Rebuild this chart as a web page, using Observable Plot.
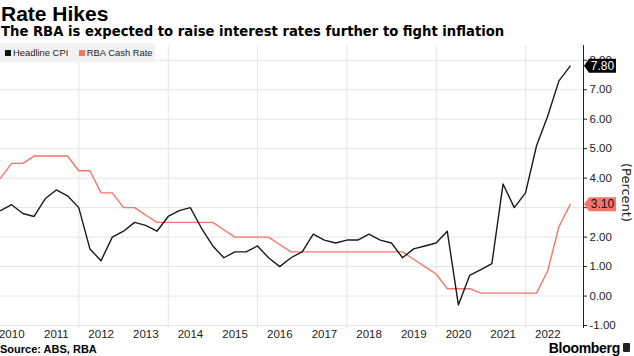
<!DOCTYPE html>
<html>
<head>
<meta charset="utf-8">
<script src="https://cdn.jsdelivr.net/npm/d3@7"></script>
<script src="https://cdn.jsdelivr.net/npm/@observablehq/plot@0.6"></script>
<style>
  html, body { margin: 0; padding: 0; background: #fff; }
  body { width: 634px; height: 356px; position: relative; overflow: hidden; font-family: "Liberation Sans", Arial, sans-serif; color: #000; }
  #head { position: relative; height: 42px; }
  #title { position: absolute; left: 1px; top: 3px; font-size: 21px; line-height: 21px; font-weight: bold; }
  #subtitle { position: absolute; left: 1px; top: 25px; font-family: "DejaVu Sans", sans-serif; font-size: 13.2px; line-height: 14px; font-weight: bold; white-space: nowrap; }
  #legend { position: absolute; left: 0; top: 43px; width: 155px; height: 19px; background: #f2f2f2; font-size: 9.4px; line-height: 19px; color: #222; white-space: nowrap; }
  #legend span.sw { display: inline-block; width: 6px; height: 6px; margin: 0 2px 0 5px; vertical-align: 0px; }
  #foot { position: relative; height: 14px; }
  #source { position: absolute; left: 0; top: 0; font-size: 11px; line-height: 14px; font-weight: bold; }
  #brand { position: absolute; right: 14px; top: -2px; font-size: 14px; line-height: 16px; font-weight: bold; letter-spacing: -0.3px; }
  #icon { position: absolute; right: 4px; top: 1px; width: 7px; height: 9px; background: #222; border-radius: 1px; }
</style>
</head>
<body>
<div id="head">
  <div id="title">Rate Hikes</div>
  <div id="subtitle">The RBA is expected to raise interest rates further to fight inflation</div>
</div>
<div id="chart"></div>
<div id="foot">
  <div id="source">Source: ABS, RBA</div>
  <div id="brand">Bloomberg</div>
  <div id="icon"></div>
</div>
<div id="legend"><span class="sw" style="background:#111"></span>Headline CPI <span class="sw" style="background:#f4756a;margin-left:8px"></span>RBA Cash Rate</div>
<script>
// Quarter-end dates (categories)
const quarters = [
  "2010-03-31","2010-06-30","2010-09-30","2010-12-31",
  "2011-03-31","2011-06-30","2011-09-30","2011-12-31",
  "2012-03-31","2012-06-30","2012-09-30","2012-12-31",
  "2013-03-31","2013-06-30","2013-09-30","2013-12-31",
  "2014-03-31","2014-06-30","2014-09-30","2014-12-31",
  "2015-03-31","2015-06-30","2015-09-30","2015-12-31",
  "2016-03-31","2016-06-30","2016-09-30","2016-12-31",
  "2017-03-31","2017-06-30","2017-09-30","2017-12-31",
  "2018-03-31","2018-06-30","2018-09-30","2018-12-31",
  "2019-03-31","2019-06-30","2019-09-30","2019-12-31",
  "2020-03-31","2020-06-30","2020-09-30","2020-12-31",
  "2021-03-31","2021-06-30","2021-09-30","2021-12-31",
  "2022-03-31","2022-06-30","2022-09-30","2022-12-31"
];
// Headline CPI, y/y %
const cpi = [
  2.9, 3.1, 2.8, 2.7,
  3.3, 3.6, 3.4, 3.0,
  1.6, 1.2, 2.0, 2.2,
  2.5, 2.4, 2.2, 2.7,
  2.9, 3.0, 2.3, 1.7,
  1.3, 1.5, 1.5, 1.7,
  1.3, 1.0, 1.3, 1.5,
  2.1, 1.9, 1.8, 1.9,
  1.9, 2.1, 1.9, 1.8,
  1.3, 1.6, 1.7, 1.8,
  2.2, -0.3, 0.7, 0.9,
  1.1, 3.8, 3.0, 3.5,
  5.1, 6.1, 7.3, 7.8
];
// RBA cash rate, %
const cashRate = [
  4.0, 4.5, 4.5, 4.75,
  4.75, 4.75, 4.75, 4.25,
  4.25, 3.5, 3.5, 3.0,
  3.0, 2.75, 2.5, 2.5,
  2.5, 2.5, 2.5, 2.5,
  2.25, 2.0, 2.0, 2.0,
  2.0, 1.75, 1.5, 1.5,
  1.5, 1.5, 1.5, 1.5,
  1.5, 1.5, 1.5, 1.5,
  1.5, 1.25, 1.0, 0.75,
  0.25, 0.25, 0.25, 0.1,
  0.1, 0.1, 0.1, 0.1,
  0.1, 0.85, 2.35, 3.10
];
const yTicks = [-1, 0, 1, 2, 3, 4, 5, 6, 7, 8];
const xLabelYears = [2010, 2011, 2012, 2013, 2014, 2015, 2016, 2017, 2018, 2019, 2020, 2021, 2022];
const gridYears = [2010, 2012, 2014, 2016, 2018, 2020, 2022];
const seriesNames = ["Headline CPI", "RBA Cash Rate"];
const colors = ["#1a1a1a", "#f4756a"];

const data = quarters.map((q, i) => ({date: new Date(q + "T00:00:00Z"), cpi: cpi[i], cash: cashRate[i]}));
const xDomain = [new Date("2010-03-31T00:00:00Z"), new Date("2023-04-19T00:00:00Z")];
const labelDates = xLabelYears.map(y => new Date(Date.UTC(y, 6, 1)));
const gridDates = gridYears.map(y => new Date(Date.UTC(y, 0, 1)));
// tick values hidden behind the last-value tags in the reference
const hiddenLabels = [3];

const chart = Plot.plot({
  width: 634,
  height: 300,
  marginLeft: 0,
  marginRight: 51,
  marginTop: 3,
  marginBottom: 14,
  style: {fontFamily: "'Liberation Sans', Arial, sans-serif", fontSize: "11.5px", color: "#222", background: "transparent", overflow: "visible"},
  x: {type: "utc", domain: xDomain},
  y: {domain: [-1.1, 8.5]},
  marks: [
    Plot.gridY(yTicks, {stroke: "#e4e4e4", strokeOpacity: 1}),
    Plot.gridX(gridDates, {stroke: "#e4e4e4", strokeOpacity: 1}),
    Plot.line(data, {x: "date", y: "cash", stroke: colors[1], strokeWidth: 1.4}),
    Plot.line(data, {x: "date", y: "cpi", stroke: colors[0], strokeWidth: 1.4}),
    Plot.axisY(yTicks, {anchor: "right", tickSize: 3, tickPadding: 3, tickFormat: d => hiddenLabels.includes(d) ? "" : d.toFixed(2), label: null, stroke: "#222", fill: "#222"}),
    Plot.ruleX([xDomain[1]], {stroke: "#222", strokeWidth: 1}),
    Plot.axisX(labelDates, {tickSize: 0, tickPadding: 1, tickFormat: d => String(d.getUTCFullYear()), label: null, fill: "#222"})
  ]
});
document.getElementById("chart").appendChild(chart);

// Last-value tags and unit label, positioned via the plot's scales
const svg = d3.select(chart);
const xs = chart.scale("x"), ys = chart.scale("y");
const xr = xs.apply(xDomain[1]);
const last = [
  {v: cpi[cpi.length - 1], fill: "#000", text: "#fff"},
  {v: cashRate[cashRate.length - 1], fill: "#f4756a", text: "#111"}
];
for (const t of last) {
  const y = ys.apply(t.v);
  const g = svg.append("g");
  g.append("path")
    .attr("d", `M${xr + 1},${y} L${xr + 6},${y - 7} L${xr + 33},${y - 7} L${xr + 33},${y + 7} L${xr + 6},${y + 7} Z`)
    .attr("fill", t.fill);
  g.append("text")
    .attr("x", xr + 19.5).attr("y", y).attr("dy", "0.35em")
    .attr("text-anchor", "middle")
    .attr("fill", t.text)
    .style("font-size", "12px")
    .text(t.v.toFixed(2));
}
const yMid = (ys.apply(-1.1) + ys.apply(8.5)) / 2 + 6;
svg.append("text")
  .attr("transform", `translate(${xr + 39},${yMid}) rotate(90)`)
  .attr("text-anchor", "middle")
  .attr("fill", "#222")
  .style("font-family", "'DejaVu Sans', sans-serif")
  .style("font-size", "13px")
  .text("(Percent)");
</script>
</body>
</html>
